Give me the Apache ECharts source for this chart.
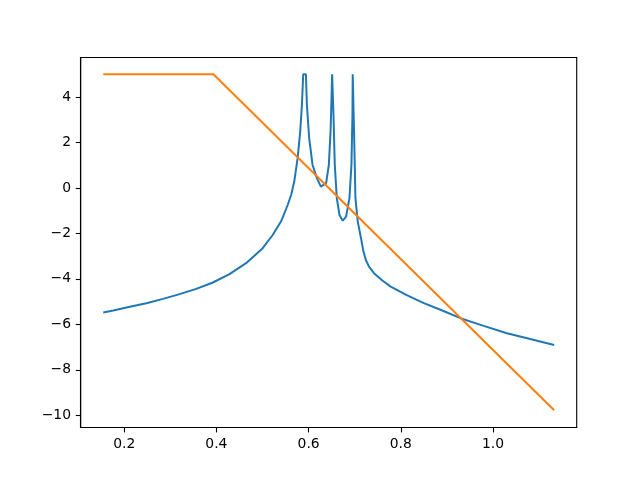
<!DOCTYPE html>
<html>
<head>
<meta charset="utf-8">
<script src="https://cdn.jsdelivr.net/npm/echarts@6/dist/echarts.min.js"></script>
<style>
html,body{margin:0;padding:0;background:#fff;}
#chart{width:640px;height:480px;}
</style>
</head>
<body>
<div id="chart"></div>
<script>
// Blue curve (x, y)
const blueX = [0.1546,0.1762,0.2122,0.2482,0.2843,0.3203,0.3563,0.3924,0.4284,0.4644,0.5005,0.5221,0.5401,0.5546,0.5621,0.5689,0.5762,0.5818,0.5855,0.5883,0.5942,0.5963,0.6013,0.6086,0.618,0.6266,0.6303,0.638,0.6439,0.6476,0.6497,0.651,0.6525,0.654,0.6568,0.6612,0.667,0.6741,0.6813,0.6886,0.6929,0.6951,0.6957,0.6973,0.6986,0.7016,0.7066,0.7137,0.7185,0.7239,0.731,0.7419,0.7599,0.778,0.814,0.85,0.886,0.9293,0.9797,1.0302,1.0806,1.1326];
const blueY = [-5.48,-5.39,-5.23,-5.07,-4.88,-4.67,-4.44,-4.16,-3.79,-3.31,-2.65,-2.07,-1.48,-0.75,-0.31,0.28,1.31,2.48,3.65,5.0,5.0,3.65,2.18,1.01,0.43,0.06,-0.01,0.21,1.01,2.48,3.94,5.0,5.0,3.21,1.01,-0.45,-1.19,-1.44,-1.26,-0.45,1.01,3.21,5.0,5.0,2.48,-0.45,-1.48,-2.21,-2.75,-3.16,-3.46,-3.75,-4.07,-4.34,-4.73,-5.07,-5.36,-5.73,-6.07,-6.39,-6.65,-6.91];
// Orange polyline
const orangeX = [0.1546,0.3935,1.1326];
const orangeY = [5.0,5.0,-9.78];
// Axis limits
const xMin = 0.1057, xMax = 1.1815;
const yMin = -10.54, yMax = 5.74;

const blueData = blueX.map((x,i)=>[x, blueY[i]]);
const orangeData = orangeX.map((x,i)=>[x, orangeY[i]]);

const font = 'DejaVu Sans';
const chart = echarts.init(document.getElementById('chart'), null, {renderer:'canvas'});
chart.setOption({
  animation:false,
  backgroundColor:'#fff',
  grid:{left:80.7, right:63.3, top:57.5, bottom:52.5, show:true, borderColor:'#000', borderWidth:1.1, backgroundColor:'#fff'},
  xAxis:{
    type:'value', min:xMin, max:xMax, splitNumber:5,
    axisLine:{show:true, onZero:false, lineStyle:{color:'#000', width:1.1}},
    axisTick:{show:true, inside:false, length:4.9, lineStyle:{color:'#000', width:1.1}},
    axisLabel:{color:'#000', fontFamily:font, fontSize:13.9, margin:9.5, showMinLabel:false, showMaxLabel:false,
      formatter:v=>v.toFixed(1)},
    splitLine:{show:false}
  },
  yAxis:{
    type:'value', min:yMin, max:yMax, splitNumber:8,
    axisLine:{show:true, onZero:false, lineStyle:{color:'#000', width:1.1}},
    axisTick:{show:true, inside:false, length:4.9, lineStyle:{color:'#000', width:1.1}},
    axisLabel:{color:'#000', fontFamily:font, fontSize:13.9, margin:9.7, showMinLabel:false, showMaxLabel:false,
      formatter:v=>String(Math.round(v)).replace('-', '\u2212')},
    splitLine:{show:false}
  },
  series:[
    {type:'line', data:blueData, showSymbol:false, smooth:false, clip:true,
     lineStyle:{color:'#1f77b4', width:2}, itemStyle:{color:'#1f77b4'}},
    {type:'line', data:orangeData, showSymbol:false, clip:true,
     lineStyle:{color:'#ff7f0e', width:2}, itemStyle:{color:'#ff7f0e'}}
  ]
});
</script>
</body>
</html>
